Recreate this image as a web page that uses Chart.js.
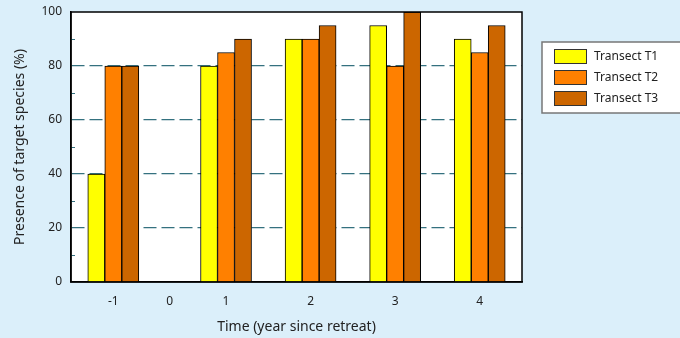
<!DOCTYPE html>
<html>
<head>
<meta charset="utf-8">
<script src="https://cdn.jsdelivr.net/npm/chart.js@4/dist/chart.umd.min.js"></script>
<style>
  html, body { margin: 0; padding: 0; background: #dbeffa; }
  #wrap { width: 680px; height: 338px; position: relative; }
</style>
</head>
<body>
<div id="wrap"><canvas id="chart"></canvas></div>
<script>
  const years = ["-1", "0", "1", "2", "3", "4"];
  const seriesNames = ["Transect T1", "Transect T2", "Transect T3"];
  const transectT1 = [40, null, 80, 90, 95, 90];
  const transectT2 = [80, null, 85, 90, 80, 85];
  const transectT3 = [80, null, 90, 95, 100, 95];
  const yTicks = [0, 20, 40, 60, 80, 100];

  const COLORS = {
    bg: "#dbeffa",
    text: "#222222",
    grid: "#34717f",
    t1: "#ffff00",
    t2: "#ff8000",
    t3: "#cc6600",
  };

  // category axis where the empty year gets a narrower slot
  class WeightedCategoryScale extends Chart.CategoryScale {
    getPixelForValue(value) {
      if (typeof value !== "number") value = this.parse(value);
      if (value === null || value === undefined || isNaN(value)) return NaN;
      const w = this.options.slotWeights;
      const total = w.reduce((a, b) => a + b, 0);
      let acc = 0;
      for (let i = 0; i < value; i++) acc += w[i];
      return this.getPixelForDecimal((acc + w[value] / 2) / total);
    }
  }
  WeightedCategoryScale.id = "weightedCategory";
  WeightedCategoryScale.defaults = Chart.CategoryScale.defaults;
  Chart.register(WeightedCategoryScale);

  Chart.defaults.font.family = "'Noto Sans', sans-serif";
  Chart.defaults.font.size = 12;
  Chart.defaults.color = COLORS.text;

  const frame = {
    id: "frame",
    beforeDraw(chart) {
      const { ctx, chartArea: a } = chart;
      ctx.save();
      ctx.fillStyle = COLORS.bg;
      ctx.fillRect(0, 0, chart.width, chart.height);
      ctx.fillStyle = "#ffffff";
      ctx.fillRect(a.left, a.top, a.right - a.left, a.bottom - a.top);
      ctx.restore();
    },
    afterDraw(chart) {
      const { ctx, chartArea: a } = chart;
      const y = chart.scales.y;
      ctx.save();
      // minor ticks inside the left axis
      ctx.strokeStyle = COLORS.grid;
      ctx.lineWidth = 1;
      for (let i = 0; i < yTicks.length - 1; i++) {
        const py = Math.round(y.getPixelForValue((yTicks[i] + yTicks[i + 1]) / 2)) + 0.5;
        ctx.beginPath();
        ctx.moveTo(a.left, py);
        ctx.lineTo(a.left + 4, py);
        ctx.stroke();
      }
      ctx.strokeStyle = "#000000";
      ctx.lineWidth = 1.5;
      ctx.strokeRect(a.left, a.top, a.right - a.left, a.bottom - a.top);

      // legend box
      const bx = 542, by = 42;
      ctx.fillStyle = "#ffffff";
      ctx.fillRect(bx, by, 150, 71);
      ctx.strokeStyle = "#777777";
      ctx.lineWidth = 1.5;
      ctx.strokeRect(bx, by, 150, 71);
      ctx.font = "12px 'Noto Sans', sans-serif";
      ctx.textBaseline = "middle";
      chart.data.datasets.forEach((ds, i) => {
        const sy = by + 7 + i * 21;
        ctx.fillStyle = ds.backgroundColor;
        ctx.fillRect(bx + 12, sy, 33, 15);
        ctx.strokeStyle = "#333333";
        ctx.lineWidth = 1;
        ctx.strokeRect(bx + 12.5, sy + 0.5, 32, 14);
        ctx.fillStyle = COLORS.text;
        ctx.fillText(ds.label, bx + 52, sy + 8);
      });
      ctx.restore();
    },
  };

  const seriesData = [transectT1, transectT2, transectT3];
  const seriesColors = [COLORS.t1, COLORS.t2, COLORS.t3];

  new Chart(document.getElementById("chart"), {
    type: "bar",
    data: {
      labels: years,
      datasets: seriesNames.map((name, i) => ({
        label: name,
        data: seriesData[i],
        backgroundColor: seriesColors[i],
        borderColor: "#000000",
        borderWidth: 1,
        barThickness: 17,
      })),
    },
    options: {
      responsive: true,
      maintainAspectRatio: false,
      animation: false,
      layout: { padding: { left: 0, top: 12, right: 158, bottom: 0 } },
      plugins: {
        legend: { display: false },
        tooltip: { enabled: false },
      },
      scales: {
        x: {
          type: "weightedCategory",
          slotWeights: [3, 1, 3, 3, 3, 3],
          grid: { display: false },
          border: { color: "#000000", width: 1.5 },
          ticks: { padding: 4, maxRotation: 0 },
          title: {
            display: true,
            text: "Time (year since retreat)",
            font: { size: 14 },
            padding: { top: 0, bottom: 3 },
          },
          afterFit(scale) {
            scale.height = 56;
            scale.paddingLeft = 0;
            scale.paddingRight = 0;
          },
        },
        y: {
          min: 0,
          max: 100,
          afterBuildTicks(scale) { scale.ticks = yTicks.map((v) => ({ value: v })); },
          grid: {
            drawTicks: false,
            color: (ctx) => (ctx.tick && ctx.tick.value % 100 === 0 ? "rgba(0,0,0,0)" : COLORS.grid),
            lineWidth: 1.2,
          },
          border: { color: "#000000", width: 1.5, dash: [13, 5] },
          ticks: { padding: 9 },
          title: {
            display: true,
            text: "Presence of target species (%)",
            font: { size: 14 },
            padding: { top: 12, bottom: 0 },
          },
          afterFit(scale) {
            scale.width = 71;
            scale.paddingTop = 0;
            scale.paddingBottom = 0;
          },
        },
      },
    },
    plugins: [frame],
  });
</script>
</body>
</html>
